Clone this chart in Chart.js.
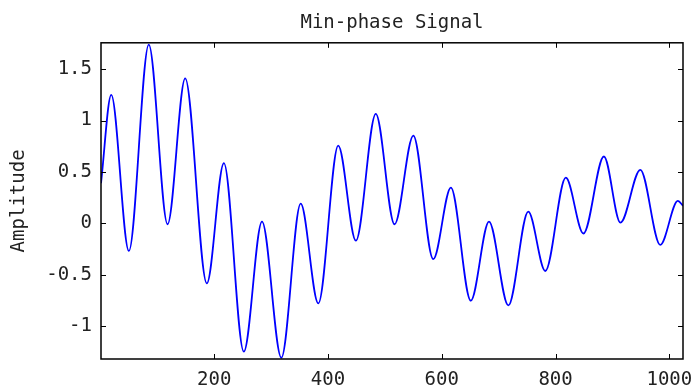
<!DOCTYPE html>
<html>
<head>
<meta charset="utf-8">
<script src="https://cdn.jsdelivr.net/npm/chart.js@4.4.0/dist/chart.umd.min.js"></script>
<style>
  html, body { margin: 0; padding: 0; background: #fff; }
  #wrap { width: 693px; height: 390px; }
</style>
</head>
<body>
<div id="wrap"><canvas id="chart" width="693" height="390"></canvas></div>
<script>
// sample index of each turning point
const sampleIdx = [1, 19, 50, 85, 118, 149, 187, 217, 252, 284, 318, 352, 383, 418, 449, 484,
  517, 550, 585, 616, 651, 683, 717, 752, 782, 818, 849, 885, 914, 949, 984, 1015, 1024];
const amplitude = [0.39, 1.25, -0.27, 1.74, -0.01, 1.41, -0.585, 0.585, -1.25, 0.016, -1.31, 0.19, -0.78, 0.756, -0.17, 1.065,
  -0.01, 0.854, -0.35, 0.347, -0.754, 0.016, -0.8, 0.113, -0.465, 0.444, -0.1, 0.65, 0.006, 0.52, -0.21, 0.217, 0.17];

const xTicks = [200, 400, 600, 800, 1000];
const yTicks = [-1, -0.5, 0, 0.5, 1, 1.5];

const monoFont = "'DejaVu Sans Mono', 'Liberation Mono', monospace";
const textColor = '#222';

// box round the plot with inward tick marks on all four sides
const boxTicks = {
  id: 'boxTicks',
  afterDraw(chart) {
    const { ctx, chartArea: a, scales } = chart;
    const len = 5;
    ctx.save();
    ctx.strokeStyle = '#000';
    ctx.lineWidth = 1;
    ctx.beginPath();
    scales.x.ticks.forEach(t => {
      const px = Math.round(scales.x.getPixelForValue(t.value)) + 0.5;
      ctx.moveTo(px, a.bottom); ctx.lineTo(px, a.bottom - len);
      ctx.moveTo(px, a.top); ctx.lineTo(px, a.top + len);
    });
    scales.y.ticks.forEach(t => {
      const py = Math.round(scales.y.getPixelForValue(t.value)) + 0.5;
      ctx.moveTo(a.left, py); ctx.lineTo(a.left + len, py);
      ctx.moveTo(a.right, py); ctx.lineTo(a.right - len, py);
    });
    ctx.stroke();
    ctx.lineWidth = 1.5;
    ctx.strokeRect(a.left, a.top, a.right - a.left, a.bottom - a.top);
    ctx.restore();
  }
};

new Chart(document.getElementById('chart'), {
  type: 'line',
  data: {
    datasets: [{
      data: sampleIdx.map((x, i) => ({ x: x, y: amplitude[i] })),
      borderColor: '#0000ff',
      borderWidth: 1.8,
      pointRadius: 0,
      fill: false,
      cubicInterpolationMode: 'monotone'
    }]
  },
  options: {
    responsive: false,
    animation: false,
    layout: { padding: { left: 0, right: 10, top: 0, bottom: 0 } },
    plugins: {
      legend: { display: false },
      tooltip: { enabled: false },
      title: {
        display: true,
        text: 'Min-phase Signal',
        fullSize: false,
        color: textColor,
        font: { family: monoFont, size: 19, weight: 'normal' },
        padding: { top: 12, bottom: 8 }
      }
    },
    scales: {
      x: {
        type: 'linear',
        min: 1,
        max: 1024,
        grid: { display: false, drawTicks: false },
        border: { display: false },
        afterBuildTicks: s => { s.ticks = xTicks.map(v => ({ value: v })); },
        afterFit: s => { s.height = 31; s.paddingLeft = 0; s.paddingRight = 0; },
        ticks: {
          color: textColor,
          padding: 10,
          maxRotation: 0,
          font: { family: monoFont, size: 19 },
          callback: v => String(v)
        }
      },
      y: {
        type: 'linear',
        min: -1.322,
        max: 1.757,
        grid: { display: false, drawTicks: false },
        border: { display: false },
        afterBuildTicks: s => { s.ticks = yTicks.map(v => ({ value: v })); },
        afterFit: s => { s.width = 101; },
        title: {
          display: true,
          text: 'Amplitude',
          color: textColor,
          font: { family: monoFont, size: 19 },
          padding: { top: 8, bottom: 4 }
        },
        ticks: {
          color: textColor,
          padding: 9,
          font: { family: monoFont, size: 19 },
          callback: v => String(v)
        }
      }
    }
  },
  plugins: [boxTicks]
});
</script>
</body>
</html>
